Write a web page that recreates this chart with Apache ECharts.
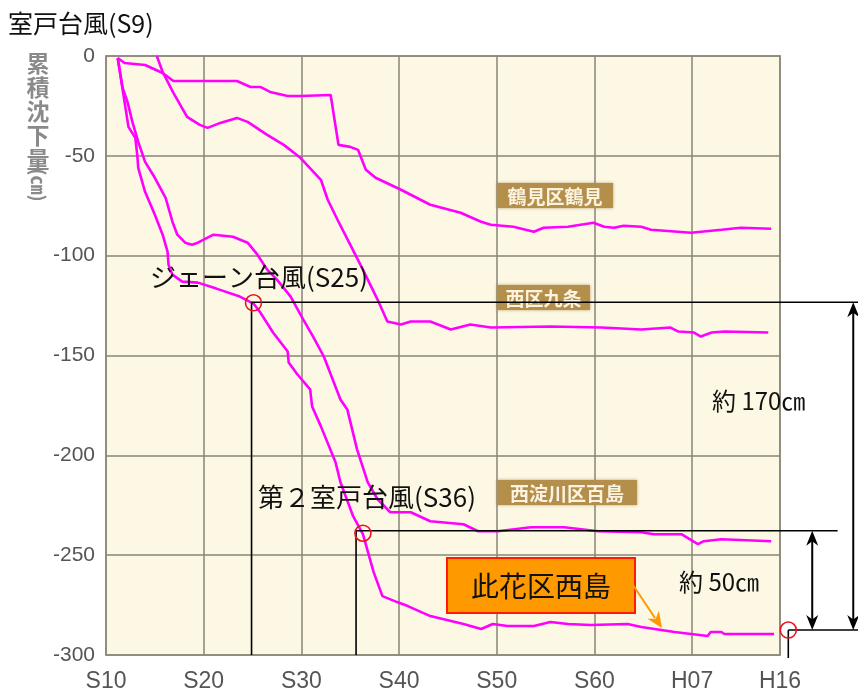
<!DOCTYPE html>
<html><head><meta charset="utf-8">
<script src="https://cdn.jsdelivr.net/npm/echarts@6/dist/echarts.min.js"></script>
<style>html,body{margin:0;padding:0;background:#fff}#c{width:858px;height:697px}</style>
</head><body><div id="c"></div>
<script>
// x values are Showa years (S10 = 10, H07 = S70, H16 = S79)
const xTicks = [10, 20, 30, 40, 50, 60, 70, 79];
const xTickLabels = ['S10', 'S20', 'S30', 'S40', 'S50', 'S60', 'H07', 'H16'];

const tsurumiX = [11.2, 11.9, 14.0, 15.8, 16.9, 23.4, 24.8, 25.8, 26.8, 28.6, 29.9, 33.0, 33.8, 35.0, 35.8, 36.6, 37.6, 40.2, 43.2, 46.3, 48.4, 49.4, 51.7, 53.8, 54.8, 57.3, 59.9, 61.0, 62.0, 63.0, 64.8, 65.8, 69.9, 73.0, 75.0, 78.1];
const tsurumiY = [-1, -3.5, -4.5, -8.5, -12.5, -12.5, -15.5, -15.5, -18, -20, -20, -19.5, -44.5, -45.5, -47, -57, -61, -67, -74.5, -78.5, -83, -84.5, -85.5, -88, -86, -85.5, -83.5, -85.5, -86, -85, -85.5, -87, -88.5, -87, -86, -86.5];

const kujoX = [15.2, 15.8, 16.9, 18.3, 19.6, 20.4, 21.7, 23.4, 24.5, 26.5, 28.2, 29.9, 32.0, 32.7, 33.7, 35.0, 36.3, 37.3, 37.8, 38.8, 40.2, 41.2, 43.2, 45.3, 47.3, 49.4, 55.5, 60.7, 64.8, 67.8, 68.6, 70.2, 70.9, 72.0, 73.3, 77.8];
const kujoY = [0, -8, -18.5, -30.5, -34.5, -36, -33.5, -31, -33, -39.5, -44.5, -51, -62, -72, -82, -94.5, -107, -117, -122, -133, -134.5, -133, -133, -137, -134.5, -136, -135.5, -136, -137, -136, -138, -138.5, -140.5, -138.5, -138, -138.5];

const nishiyodoX = [11.2, 11.7, 12.2, 12.7, 13.3, 14.0, 15.0, 16.1, 16.8, 17.3, 18.1, 18.8, 19.4, 21.0, 23.0, 24.5, 25.5, 26.5, 27.5, 28.9, 30.2, 31.2, 32.3, 34.0, 34.7, 35.7, 36.8, 37.8, 39.1, 41.2, 43.2, 46.6, 48.1, 50.1, 53.5, 56.9, 60.4, 64.8, 66.1, 68.9, 70.6, 71.2, 73.0, 78.1];
const nishiyodoY = [-1, -16, -23, -33, -43, -53, -61, -71, -83, -89.5, -93.5, -94.5, -93.5, -89.5, -90.5, -93.5, -99.5, -107, -112, -120.5, -132, -140.5, -150.5, -172, -177, -197, -213.5, -222, -228.5, -228.5, -233, -234.5, -238, -238, -236, -236, -238, -238.5, -239.5, -239.5, -244.5, -243, -242, -243];

const konohanaX = [11.2, 12.3, 13.0, 13.2, 13.3, 14.0, 15.0, 15.8, 16.3, 16.4, 16.8, 17.8, 19.4, 21.3, 23.7, 25.1, 25.8, 27.1, 28.6, 28.7, 29.6, 30.9, 31.1, 32.0, 33.5, 34.0, 35.3, 36.3, 37.4, 38.3, 39.8, 40.9, 43.2, 46.6, 48.4, 49.6, 51.1, 53.8, 55.5, 57.3, 59.6, 63.4, 64.8, 68.2, 71.6, 71.9, 73.0, 73.3, 75.0, 78.4];
const konohanaY = [-1, -35.5, -41, -49.5, -56, -68, -79.5, -89.5, -98, -104.5, -109.5, -113, -113.5, -116.5, -120.5, -124, -128.5, -138.5, -148, -153.5, -159.5, -167, -175.5, -185.5, -203.5, -213.5, -230.5, -239.5, -258.5, -270.5, -273.5, -275.5, -280.5, -284.5, -287, -284.5, -285.5, -285.5, -283.5, -284.5, -285, -284.5, -286, -288.5, -290.5, -288.5, -288.5, -289.5, -289.5, -289.5];

// annotation anchors (Showa year, cm)
const typhoonCircles = [[25.1, -123.6], [36.3, -239], [79.85, -287.5]];
const typhoonCorners = [[24.9, -123.3], [35.6, -237.8], [79.85, -287.5]];
const arrow170X = 86.5, arrow50X = 82.3;

const zip = (xs, ys) => xs.map((x, i) => [x, ys[i]]);
const chart = echarts.init(document.getElementById('c'), null, {renderer: 'canvas'});
const lineStyle = {color: '#ff00ff', width: 2.6};
const mk = (name, xs, ys) => ({name, type: 'line', data: zip(xs, ys), showSymbol: false, symbol: 'none',
  lineStyle, itemStyle: {color: '#ff00ff'}, z: 3, animation: false});

chart.setOption({
  animation: false,
  backgroundColor: '#ffffff',
  grid: {left: 106, right: 78, top: 56, bottom: 42, show: true, backgroundColor: '#fcf8e4', borderColor: '#a6a294', borderWidth: 2},
  xAxis: {type: 'value', min: 10, max: 79, interval: 10,
    axisLine: {show: false}, axisTick: {show: false},
    splitLine: {show: true, lineStyle: {color: '#8a8678', width: 1.5}},
    axisLabel: {showMaxLabel: true, showMinLabel: true, margin: 15, color: '#555', fontSize: 23, fontFamily: 'Liberation Sans, Arial, sans-serif',
      formatter: v => { const i = xTicks.indexOf(Math.round(v)); return i >= 0 ? xTickLabels[i] : ''; }}},
  yAxis: {type: 'value', min: -300, max: 0, interval: 50,
    axisLine: {show: false}, axisTick: {show: false},
    splitLine: {show: true, lineStyle: {color: '#8a8678', width: 1.5}},
    axisLabel: {margin: 11, color: '#555', fontSize: 21, fontFamily: 'Liberation Sans, Arial, sans-serif'}},
  series: [mk('鶴見区鶴見', tsurumiX, tsurumiY), mk('西区九条', kujoX, kujoY),
           mk('西淀川区百島', nishiyodoX, nishiyodoY), mk('此花区西島', konohanaX, konohanaY)]
});

const px = p => chart.convertToPixel({gridIndex: 0}, p);
const g = [];
const BL = {stroke: '#000', lineWidth: 1.6};
const seg = (a, b, style, z) => g.push({type: 'line', shape: {x1: a[0], y1: a[1], x2: b[0], y2: b[1]}, style, z: z || 20, silent: true});
const head = (tip, dir, len, hw, fill, z) => {
  const bx = tip[0] - dir[0] * len, by = tip[1] - dir[1] * len;
  const nx = -dir[1], ny = dir[0];
  const nb = [tip[0] - dir[0] * len * 0.7, tip[1] - dir[1] * len * 0.7];
  g.push({type: 'polygon', shape: {points: [tip, [bx + nx * hw, by + ny * hw], nb, [bx - nx * hw, by - ny * hw]]}, style: {fill}, z: z || 21, silent: true});
};

// brown place-name tags
const tag = (x, y, w, h, text, fs) => {
  g.push({type: 'rect', shape: {x, y, width: w, height: h}, style: {fill: '#b48f4c', shadowBlur: 3, shadowColor: 'rgba(150,110,40,0.6)'}, z: 10, silent: true});
  g.push({type: 'text', x: x + w / 2, y: y + h / 2 + 1, style: {text, fill: '#fbf3df', font: 'bold ' + fs + 'px "Noto Sans CJK JP"', align: 'center', verticalAlign: 'middle'}, z: 11, silent: true});
};
tag(497, 183, 116, 25, '鶴見区鶴見', 19);
tag(497, 285, 93, 25, '西区九条', 19);
tag(497, 480, 140, 25, '西淀川区百島', 19);

// typhoon guide lines
const c0 = typhoonCorners[0], c1 = typhoonCorners[1], c2 = typhoonCorners[2];
seg(px(c0), px([c0[0], -300]), BL);
seg(px(c0), [858, px(c0)[1]], BL);
seg(px(c1), px([c1[0], -300]), BL);
seg(px(c1), px([84.9, c1[1]]), BL);
seg(px(c2), [858, px(c2)[1]], BL);
seg(px(c2), px([c2[0], -301.5]), BL);

// double arrows
const dbl = (xv, y1, y2) => {
  const a = px([xv, y1]), b = px([xv, y2]);
  seg([a[0], a[1] + 8], [b[0], b[1] - 8], {stroke: '#000', lineWidth: 2});
  head(a, [0, -1], 15, 6, '#000');
  head(b, [0, 1], 15, 6, '#000');
};
dbl(arrow170X, c0[1], c2[1]);
dbl(arrow50X, c1[1], c2[1]);

// red circles
typhoonCircles.forEach(p => { const q = px(p); g.push({type: 'circle', shape: {cx: q[0], cy: q[1], r: 8}, style: {fill: 'none', stroke: '#e8141e', lineWidth: 1.6}, z: 22, silent: true}); });

// texts
const T = (x, y, text, fs, extra) => g.push(Object.assign({type: 'text', x, y, style: Object.assign({text, fill: '#111', font: fs + 'px "Noto Sans CJK JP"', align: 'left', verticalAlign: 'middle'}, extra || {}), z: 25, silent: true}));
T(8, 23, '室戸台風(S9)', 25);
T(150, 277, 'ジェーン台風(S25)', 26);
T(258, 497, '第２室戸台風(S36)', 26);
T(712, 401, '約 170㎝', 24);
T(679, 582, '約 50㎝', 24);

// y-axis title (vertical)
['累', '積', '沈', '下', '量'].forEach((ch, i) => g.push({type: 'text', x: 38, y: 63 + i * 24,
  style: {text: ch, fill: '#8a8a8a', font: 'bold 23px "Noto Sans CJK JP"', align: 'center', verticalAlign: 'middle'}, z: 25, silent: true}));
g.push({type: 'text', x: 38, y: 185, rotation: -Math.PI / 2, style: {text: '(㎝)', fill: '#8a8a8a', font: 'bold 19px "Noto Sans CJK JP"', align: 'center', verticalAlign: 'middle'}, z: 25, silent: true});

// orange callout box
g.push({type: 'rect', shape: {x: 447, y: 558, width: 188, height: 55}, style: {fill: '#ff9900', stroke: '#ff1a00', lineWidth: 2}, z: 26, silent: true});
g.push({type: 'text', x: 541, y: 586, style: {text: '此花区西島', fill: '#111', font: '28px "Noto Sans CJK JP"', align: 'center', verticalAlign: 'middle'}, z: 27, silent: true});
seg([633, 585], [655, 618], {stroke: '#ff9900', lineWidth: 2}, 26);
head([662, 628], [0.559, 0.829], 16, 7, '#ff9900', 26);

chart.setOption({graphic: {elements: g}});
</script></body></html>
